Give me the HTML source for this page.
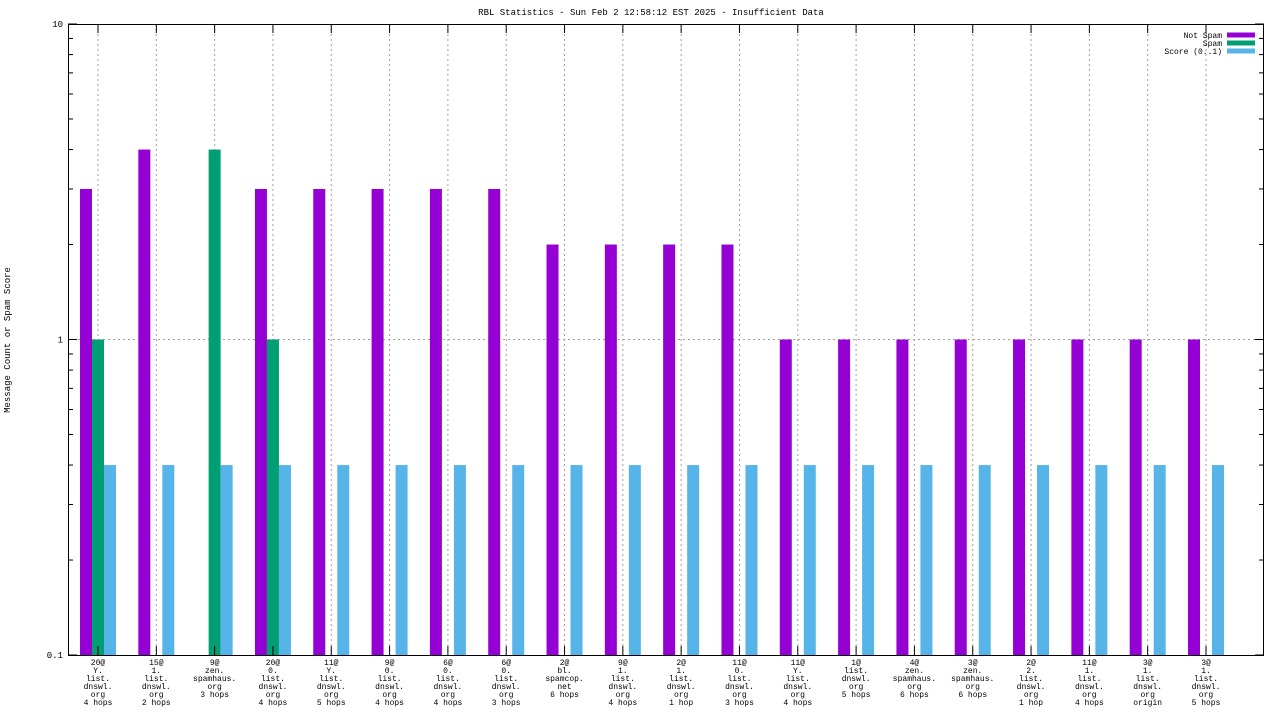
<!DOCTYPE html>
<html><head><meta charset="utf-8"><style>
html,body{margin:0;padding:0;background:#fff;}
svg{display:block;font-family:"Liberation Mono","DejaVu Sans Mono",monospace;}
</style></head><body>
<svg id="chart" width="1280" height="720" xmlns="http://www.w3.org/2000/svg">
<text x="651" y="15" font-size="9" text-anchor="middle">RBL Statistics - Sun Feb  2 12:58:12 EST 2025 - Insufficient Data</text>
<text transform="translate(10,340) rotate(-90)" font-size="9" text-anchor="middle">Message Count or Spam Score</text>
<g id="grid"></g>
<g id="bars"></g>
<g id="axes"></g>
<g id="legend"></g>
</svg>
<script>
const categories = [
 ["20@","Y.","list.","dnswl.","org","4 hops"],
 ["15@","1.","list.","dnswl.","org","2 hops"],
 ["9@","zen.","spamhaus.","org","3 hops"],
 ["20@","0.","list.","dnswl.","org","4 hops"],
 ["11@","Y.","list.","dnswl.","org","5 hops"],
 ["9@","0.","list.","dnswl.","org","4 hops"],
 ["6@","0.","list.","dnswl.","org","4 hops"],
 ["6@","0.","list.","dnswl.","org","3 hops"],
 ["2@","bl.","spamcop.","net","6 hops"],
 ["9@","1.","list.","dnswl.","org","4 hops"],
 ["2@","1.","list.","dnswl.","org","1 hop"],
 ["11@","0.","list.","dnswl.","org","3 hops"],
 ["11@","Y.","list.","dnswl.","org","4 hops"],
 ["1@","list.","dnswl.","org","5 hops"],
 ["4@","zen.","spamhaus.","org","6 hops"],
 ["3@","zen.","spamhaus.","org","6 hops"],
 ["2@","2.","list.","dnswl.","org","1 hop"],
 ["11@","1.","list.","dnswl.","org","4 hops"],
 ["3@","1.","list.","dnswl.","org","origin"],
 ["3@","1.","list.","dnswl.","org","5 hops"]
];
const notSpam = [3,4,0,3,3,3,3,3,2,2,2,2,1,1,1,1,1,1,1,1];
const spam    = [1,0,4,1,0,0,0,0,0,0,0,0,0,0,0,0,0,0,0,0];
const score   = [0.4,0.4,0.4,0.4,0.4,0.4,0.4,0.4,0.4,0.4,0.4,0.4,0.4,0.4,0.4,0.4,0.4,0.4,0.4,0.4];
const yTicks = [0.1,1,10];
const yTickLabels = ["0.1","1","10"];
const seriesNames = ["Not Spam","Spam","Score (0..1)"];

const NS="http://www.w3.org/2000/svg";
const L=68,R=1264,T=24,B=655;
const x0=98, pitch=(1206-98)/19, bw=12;
function xPos(i){return x0+i*pitch;}
function yPos(v){return B-(Math.log10(v)+1)/2*(B-T);}
function mk(tag,attrs,parent){const e=document.createElementNS(NS,tag);for(const k in attrs)e.setAttribute(k,attrs[k]);parent.appendChild(e);return e;}
const grid=document.getElementById('grid'),bars=document.getElementById('bars'),axes=document.getElementById('axes'),legend=document.getElementById('legend');

// vertical gridlines
categories.forEach((c,i)=>{
 const g=mk('line',{x1:xPos(i),x2:xPos(i),y1:T,y2:B,stroke:'#a0a0a0','stroke-dasharray':'2,3','stroke-width':1},grid);
 
 
});
// horizontal gridline at 1
const hg=mk('line',{x1:L,x2:R,y1:yPos(1),y2:yPos(1),stroke:'#a0a0a0','stroke-dasharray':'2,3'},grid);



const colors=['#9400d3','#009e73','#56b4e9'];
const series=[notSpam,spam,score];
series.forEach((s,si)=>{
 s.forEach((v,i)=>{
  if(!(v>0.1))return;
  const x=xPos(i)-18+si*12;
  const r=mk('rect',{x:x,y:yPos(v),width:bw,height:B-yPos(v),fill:colors[si]},bars);
  
  
 });
});

// frame
const fr=mk('rect',{x:L+0.5,y:T+0.5,width:R-L-1,height:B-T,fill:'none',stroke:'#000'},axes);


// y ticks
yTicks.forEach((v,i)=>{
 const y=yPos(v);
 mk('line',{x1:L,x2:L+9,y1:y,y2:y,stroke:'#000'},axes);
 mk('line',{x1:R-9,x2:R,y1:y,y2:y,stroke:'#000'},axes);
 const t=mk('text',{x:L-5,y:y+3,'font-size':9,'text-anchor':'end'},axes);
 t.textContent=yTickLabels[i];
 
 
});
for(let d=0.1;d<10;d*=10){for(let k=2;k<=9;k++){const y=yPos(d*k);
 mk('line',{x1:L,x2:L+5,y1:y,y2:y,stroke:'#000'},axes);
 mk('line',{x1:R-5,x2:R,y1:y,y2:y,stroke:'#000'},axes);}}
// x ticks & labels
categories.forEach((c,i)=>{
 const x=xPos(i);
 mk('line',{x1:x,x2:x,y1:B-9,y2:B,stroke:'#000'},axes);
 mk('line',{x1:x,x2:x,y1:T,y2:T+9,stroke:'#000'},axes);
 const t=mk('text',{x:x,y:665,'font-size':8,'text-anchor':'middle'},axes);
 
 
 c.forEach((line,j)=>{const ts=mk('tspan',{x:x,dy:j?8:0},t);ts.textContent=line;});
});
// legend
seriesNames.forEach((n,i)=>{
 const y=35+i*8;
 const t=mk('text',{x:1222,y:y+3,'font-size':8,'text-anchor':'end'},legend);
 t.textContent=n;
 
 
 const r=mk('rect',{x:1227,y:y-2.5,width:28,height:5,fill:colors[i]},legend);
 
 
});
</script>
</body></html>
